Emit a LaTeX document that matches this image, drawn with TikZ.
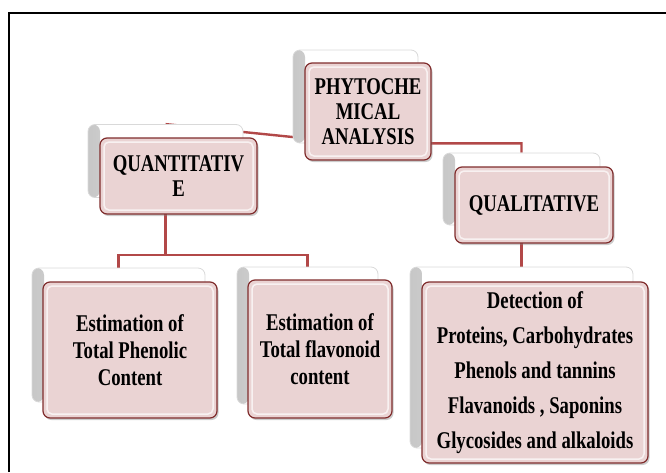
\documentclass[tikz,border=0pt]{standalone}
\usepackage{fontspec}
\newfontfamily\chartfont{Liberation Serif}[FakeStretch=0.78]
\usetikzlibrary{shadows,backgrounds}
\definecolor{boxfill}{RGB}{234,211,211}
\definecolor{boxedge}{RGB}{128,45,45}
\definecolor{linkred}{RGB}{178,72,72}
\tikzset{
  frontbox/.style={draw=boxedge, line width=1.2pt, fill=boxfill, rounded corners=7pt,
    align=center, inner sep=2pt,
    font=\chartfont\bfseries\fontsize{24}{25}\selectfont,
    drop shadow={shadow xshift=1.5pt, shadow yshift=-2pt, opacity=0.4},
    path picture={\draw[white, opacity=0.7, line width=1.5pt, rounded corners=5pt]
      ([shift={(4pt,-4pt)}]path picture bounding box.north west) rectangle
      ([shift={(-4pt,4pt)}]path picture bounding box.south east);}},
  backbox/.style={draw=black!15, line width=0.8pt, fill=white, rounded corners=7pt,
    path picture={\shade[left color=black!22, right color=white]
      (path picture bounding box.south west) rectangle
      ([xshift=12pt]path picture bounding box.north west);}},
  link/.style={draw=linkred, line width=2.4pt}
}
\begin{document}
\begin{tikzpicture}[x=1pt, y=-1pt]
% Page and outer frame
\useasboundingbox (0,0) rectangle (666,472);
\draw[line width=2.2pt] (9,472) -- (9,13) -- (666,13);
% Root
\node[backbox, minimum width=125, minimum height=93] (rootback) at (355.5,96.5) {};
\node[frontbox, minimum width=126, minimum height=97] (root) at (368,111.5) {PHYTOCHE\\MICAL\\ANALYSIS};
% Level one
\node[backbox, minimum width=155, minimum height=73] (quantback) at (165.5,161) {};
\node[frontbox, minimum width=157, minimum height=76] (quant) at (178.5,176) {QUANTITATIV\\E};
\node[backbox, minimum width=157, minimum height=72] (qualback) at (521.5,189) {};
\node[frontbox, minimum width=158, minimum height=76] (qual) at (534,205) {QUALITATIVE};
% Level two
\node[backbox, minimum width=173, minimum height=134] (phenback) at (118.5,335) {};
\node[frontbox, minimum width=174, minimum height=136, font=\chartfont\bfseries\fontsize{24}{27}\selectfont] (phen) at (130,350) {Estimation of\\Total Phenolic\\Content};
\node[backbox, minimum width=141, minimum height=137] (flavback) at (307.5,335.5) {};
\node[frontbox, minimum width=144, minimum height=138, font=\chartfont\bfseries\fontsize{24}{27}\selectfont] (flav) at (320,349) {Estimation of\\Total flavonoid\\content};
\node[backbox, minimum width=223, minimum height=181] (detback) at (521.5,357.5) {};
\node[frontbox, minimum width=226, minimum height=181, font=\chartfont\bfseries\fontsize{24}{35}\selectfont] (det) at (535,372.5) {Detection of\\Proteins, Carbohydrates\\Phenols and tannins\\Flavanoids , Saponins\\Glycosides and alkaloids};
% Connectors
\begin{scope}[on background layer]
  \draw[link] (quantback.north) -- (rootback.south) -| (qualback.north);
  \draw[link] (quantback.south) -- ++(0,57) coordinate (qbus);
  \draw[link] (phenback.north) |- (qbus) -| (flavback.north);
  \draw[link] (qualback.south) -- (detback.north);
\end{scope}
\end{tikzpicture}
\end{document}
